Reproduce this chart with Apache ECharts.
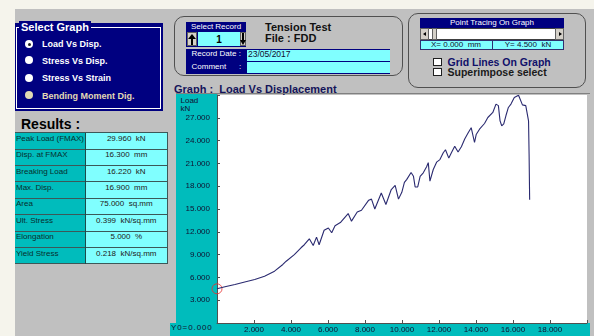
<!DOCTYPE html>
<html>
<head>
<meta charset="utf-8">
<script src="https://cdn.jsdelivr.net/npm/echarts@6/dist/echarts.min.js"></script>
<style>
  html, body { margin: 0; padding: 0; }
  body {
    width: 594px; height: 336px; position: relative; overflow: hidden;
    background: #c0c0c0; font-family: "Liberation Sans", Arial, sans-serif;
  }
  .a { position: absolute; white-space: nowrap; }
  .navy { background: #000080; }
  .cyan { background: #80ffff; }
  .teal { background: #00bcbc; }
  .wt { color: #fff; }
  .b { font-weight: bold; }
  .panel { border: 1px solid #505050; border-radius: 10px; box-sizing: border-box; }
  .radio { width: 8px; height: 8px; border-radius: 50%; background: #fff; }
  .chk { width: 9px; height: 8px; background: #fff; border: 1px solid #202020; box-sizing: border-box; }
  .btn { background: #d4d0c8; box-sizing: border-box; border: 1px solid #606060; }
  #chart { position: absolute; left: 170px; top: 94px; width: 420px; height: 242px; }
</style>
</head>
<body>
<!-- window frame strips -->
<div class="a" style="left:0;top:0;width:594px;height:9px;background:#f5f4ec"></div>
<div class="a" style="left:0;top:0;width:15px;height:336px;background:#f5f4ec"></div>

<!-- Select Graph group -->
<div class="a navy" style="left:15px;top:23px;width:148px;height:88px"></div>
<div class="a" style="left:16px;top:27px;width:145px;height:82px;border:1px solid #fff;box-sizing:border-box"></div>
<div class="a navy wt b" style="left:19px;top:21px;line-height:13px;font-size:11px;padding:0 2px">Select Graph</div>
<div class="a radio" style="left:25px;top:40px"></div>
<div class="a" style="left:27.5px;top:42.5px;width:3px;height:3px;border-radius:50%;background:#202020"></div>
<div class="a radio" style="left:25px;top:56px"></div>
<div class="a radio" style="left:25px;top:74px"></div>
<div class="a radio" style="left:25px;top:91px;background:#e2dab4"></div>
<div class="a wt b" style="left:42px;top:38px;line-height:12px;font-size:9px">Load Vs Disp.</div>
<div class="a wt b" style="left:42px;top:54.5px;line-height:12px;font-size:9px">Stress Vs Disp.</div>
<div class="a wt b" style="left:42px;top:72px;line-height:12px;font-size:9px">Stress Vs Strain</div>
<div class="a b" style="left:42px;top:89.5px;line-height:12px;font-size:9px;color:#e2dab4">Bending Moment Dig.</div>

<!-- Results -->
<div class="a b" style="left:21px;top:116px;line-height:16px;font-size:14px;color:#000">Results :</div>
<div id="results"></div>

<!-- Record panel -->
<div class="a panel" style="left:174px;top:16px;width:229px;height:60px"></div>
<div class="a navy" style="left:186px;top:21.5px;width:60px;height:25.5px"></div>
<div class="a wt" style="left:186px;top:21.5px;width:60px;text-align:center;line-height:10px;font-size:8px">Select Record</div>
<div class="a btn" style="left:187px;top:32px;width:10px;height:14px"></div>
<div class="a" style="left:188px;top:34px;width:0;height:0;border-left:4px solid transparent;border-right:4px solid transparent;border-bottom:5px solid #000"></div>
<div class="a" style="left:191px;top:38px;width:2px;height:7px;background:#000"></div>
<div class="a cyan" style="left:198px;top:32px;width:42px;height:14px"></div>
<div class="a b" style="left:198px;top:33px;width:42px;text-align:center;line-height:14px;font-size:10px">1</div>
<div class="a btn" style="left:240px;top:32px;width:6px;height:14px"></div>
<div class="a" style="left:239.5px;top:40px;width:0;height:0;border-left:3.5px solid transparent;border-right:3.5px solid transparent;border-top:5px solid #000"></div>
<div class="a" style="left:242px;top:33px;width:2px;height:7px;background:#000"></div>
<div class="a b" style="left:265px;top:20.5px;line-height:12px;font-size:11px;color:#111">Tension Test</div>
<div class="a b" style="left:265px;top:32px;line-height:12px;font-size:11px;color:#111">File : FDD</div>
<div class="a navy" style="left:186px;top:48.5px;width:204px;height:25.5px"></div>
<div class="a cyan" style="left:246.5px;top:49.5px;width:143px;height:11px"></div>
<div class="a cyan" style="left:246.5px;top:61.5px;width:143px;height:11.5px"></div>
<div class="a wt" style="left:191.5px;top:49px;line-height:10px;font-size:8px">Record Date :</div>
<div class="a wt" style="left:191.5px;top:61.5px;line-height:10px;font-size:8px">Comment</div>
<div class="a wt" style="left:239px;top:61.5px;line-height:10px;font-size:8px">:</div>
<div class="a" style="left:248px;top:48.5px;line-height:10px;font-size:8.5px;color:#101030">23/05/2017</div>

<!-- Point tracing panel -->
<div class="a panel" style="left:408px;top:13px;width:178px;height:75px"></div>
<div class="a navy" style="left:420px;top:18px;width:144px;height:9.5px"></div>
<div class="a wt" style="left:420px;top:18px;width:144px;text-align:center;line-height:10px;font-size:8px">Point Tracing On Graph</div>
<div class="a" style="left:420px;top:27.5px;width:144px;height:12.5px;background:#fff;border:1px solid #404040;box-sizing:border-box"></div>
<div class="a btn" style="left:420px;top:28px;width:9px;height:11.5px"></div>
<div class="a" style="left:423px;top:31.5px;width:0;height:0;border-top:2.5px solid transparent;border-bottom:2.5px solid transparent;border-right:3px solid #000"></div>
<div class="a btn" style="left:432px;top:28px;width:5px;height:11.5px"></div>
<div class="a btn" style="left:555px;top:28px;width:9px;height:11.5px"></div>
<div class="a" style="left:558.5px;top:31.5px;width:0;height:0;border-top:2.5px solid transparent;border-bottom:2.5px solid transparent;border-left:3px solid #000"></div>
<div class="a cyan" style="left:420px;top:40px;width:144px;height:9.5px;border:1px solid #303070;box-sizing:border-box"></div>
<div class="a" style="left:491.5px;top:40px;width:1px;height:9.5px;background:#303070"></div>
<div class="a" style="left:420px;top:39.5px;width:72px;text-align:center;line-height:10px;font-size:8px;color:#101030">X= 0.000&nbsp; mm</div>
<div class="a" style="left:492px;top:39.5px;width:72px;text-align:center;line-height:10px;font-size:8px;color:#101030">Y= 4.500&nbsp; kN</div>
<div class="a chk" style="left:432.5px;top:57.5px"></div>
<div class="a chk" style="left:432.5px;top:68px"></div>
<div class="a b" style="left:447.5px;top:56px;line-height:12px;font-size:10.5px;color:#10106a">Grid Lines On Graph</div>
<div class="a b" style="left:447.5px;top:66px;line-height:12px;font-size:10.5px;color:#1a1a1a">Superimpose select</div>

<!-- Graph area -->
<div class="a b" style="left:174px;top:83px;line-height:12px;font-size:11px;color:#14145a">Graph :&nbsp; Load Vs Displacement</div>
<div class="a" style="left:176px;top:93px;width:414px;height:1px;background:#808080"></div>
<div class="a teal" style="left:176px;top:94px;width:41px;height:242px"></div>
<div class="a teal" style="left:170px;top:323px;width:420px;height:13px"></div>
<div class="a" style="left:180.5px;top:96.5px;line-height:8px;font-size:8px;color:#101030">Load<br>kN</div>
<div class="a" style="left:171px;top:323px;line-height:10px;font-size:8px;letter-spacing:0.9px;color:#101030">Y0=0.000</div>
<div id="chart"></div>

<script>
// Load vs displacement record (displacement in mm, load in kN)
const dispData = [
  0.00, 0.43, 0.97, 1.50, 2.04, 2.57, 3.11, 3.56, 3.74, 4.18,
  4.54, 4.72, 4.99, 5.20, 5.38, 5.52, 5.79, 6.02, 6.20, 6.38,
  6.69, 7.09, 7.27, 7.58, 7.81, 8.20, 8.35, 8.53, 8.88, 9.13,
  9.42, 9.63, 9.72, 9.81, 9.99, 10.13, 10.26, 10.49, 10.62, 10.71,
  10.85, 10.98, 11.15, 11.33, 11.42, 11.51, 11.69, 11.87, 12.05, 12.23,
  12.35, 12.53, 12.67, 12.85, 13.03, 13.21, 13.39, 13.57, 13.74, 13.83,
  13.92, 14.01, 14.19, 14.46, 14.64, 14.91, 15.08, 15.21, 15.30, 15.39,
  15.50, 15.62, 15.75, 15.89, 16.07, 16.30, 16.37, 16.51, 16.69, 16.78,
  16.84, 16.87, 16.90
];
const loadData = [
  4.50, 4.76, 5.07, 5.40, 5.72, 6.16, 6.82, 7.70, 8.13, 9.00,
  9.90, 10.30, 11.08, 10.20, 11.30, 10.30, 12.20, 12.50, 11.87, 12.80,
  13.26, 14.40, 13.40, 14.60, 14.84, 16.16, 16.30, 15.00, 17.10, 15.60,
  17.56, 18.10, 18.30, 16.30, 17.20, 18.50, 18.90, 19.80, 19.30, 17.90,
  17.90, 19.30, 19.76, 20.55, 21.10, 18.66, 20.20, 21.16, 21.50, 22.40,
  22.80, 21.70, 22.40, 23.26, 22.50, 23.20, 24.20, 25.00, 25.70, 25.60,
  23.75, 24.80, 25.50, 26.25, 27.04, 27.70, 28.80, 28.60, 26.60, 25.95,
  26.20, 27.30, 28.36, 28.80, 29.67, 29.96, 29.90, 28.70, 28.60, 28.60,
  26.60, 22.20, 16.22
];

// Axis tick labels
const xTickLabels = [2, 4, 6, 8, 10, 12, 14, 16, 18];
const yTickLabels = [3, 6, 9, 12, 15, 18, 21, 24, 27];

// Results table
const resultNames = ['Peak Load (FMAX)', 'Disp. at FMAX', 'Breaking Load', 'Max. Disp.',
                     'Area', 'Ult. Stress', 'Elongation', 'Yield Stress'];
const resultValues = ['29.960  kN', '16.300  mm', '16.220  kN', '16.900  mm',
                      '75.000  sq.mm', '0.399  kN/sq.mm', '5.000  %', '0.218  kN/sq.mm'];

// Build the results grid
(function () {
  const host = document.getElementById('results');
  const top0 = 132.7, rowH = 16.4, left = 15, mid = 84.5, right = 168;
  let html = '';
  html += `<div class="a teal" style="left:${left}px;top:${top0}px;width:${mid - left}px;height:${rowH * 8}px"></div>`;
  html += `<div class="a cyan" style="left:${mid}px;top:${top0}px;width:${right - mid}px;height:${rowH * 8}px"></div>`;
  for (let i = 0; i <= 8; i++) {
    html += `<div class="a" style="left:${left}px;top:${top0 + i * rowH - 0.5}px;width:${right - left}px;height:1px;background:#3c5858"></div>`;
  }
  html += `<div class="a" style="left:${mid}px;top:${top0}px;width:1px;height:${rowH * 8}px;background:#1e4a4a"></div>`;
  html += `<div class="a" style="left:${right - 1}px;top:${top0}px;width:1px;height:${rowH * 8}px;background:#3c5858"></div>`;
  resultNames.forEach((name, i) => {
    const t = top0 + i * rowH + 1;
    html += `<div class="a" style="left:${left + 1}px;top:${t}px;line-height:10px;font-size:8px;color:#082e2e">${name}</div>`;
    html += `<div class="a" style="left:${mid}px;top:${t}px;width:${right - mid}px;text-align:center;line-height:10px;font-size:8px;color:#202020;white-space:pre">${resultValues[i]}</div>`;
  });
  host.innerHTML = html;
})();

const chart = echarts.init(document.getElementById('chart'), null, { renderer: 'canvas' });
const points = dispData.map((x, i) => [x, loadData[i]]);

chart.setOption({
  animation: false,
  backgroundColor: 'transparent',
  grid: {
    left: 47, right: 0, top: 1, bottom: 13,
    show: true, backgroundColor: '#ffffff', borderWidth: 0
  },
  xAxis: {
    type: 'value', min: 0, max: 20, interval: 2,
    splitLine: { show: false },
    axisLine: { lineStyle: { color: '#505050', width: 1 } },
    axisTick: { inside: true, length: 3, lineStyle: { color: '#505050' } },
    axisLabel: {
      margin: 3, fontSize: 8, color: '#101030', fontFamily: 'Liberation Sans, Arial',
      formatter: v => xTickLabels.includes(v) ? v.toFixed(3) : ''
    }
  },
  yAxis: {
    type: 'value', min: 0, max: 30, interval: 3,
    splitLine: { show: false },
    axisLine: { show: true, lineStyle: { color: '#505050', width: 1 } },
    axisTick: { show: true, inside: true, length: 3, lineStyle: { color: '#505050' } },
    axisLabel: {
      margin: 7, fontSize: 8, color: '#101030', fontFamily: 'Liberation Sans, Arial',
      formatter: v => yTickLabels.includes(v) ? v.toFixed(3) : ''
    }
  },
  series: [
    {
      type: 'line', data: points, showSymbol: false, smooth: false,
      lineStyle: { color: '#2a2a70', width: 1.1 }
    },
    {
      type: 'scatter', data: [points[0]], symbol: 'circle', symbolSize: 10, clip: false,
      itemStyle: { color: 'rgba(0,0,0,0)', borderColor: '#e83030', borderWidth: 1 }
    }
  ]
});
</script>
</body>
</html>
